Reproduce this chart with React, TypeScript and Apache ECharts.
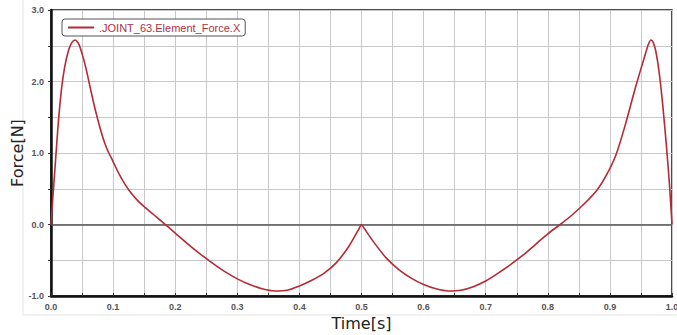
import React, { useEffect, useRef } from "react";
import * as echarts from "echarts";

const seriesName = ".JOINT_63.Element_Force.X";
const times = [
  0.0, 0.004, 0.008, 0.012, 0.017, 0.022, 0.028, 0.034, 0.039, 0.045, 0.052, 0.058, 0.064, 0.072, 0.082,
  0.09, 0.1, 0.11, 0.12, 0.13, 0.14, 0.15, 0.165, 0.18, 0.2, 0.22, 0.24, 0.26, 0.28, 0.3,
  0.32, 0.34, 0.36, 0.38, 0.4, 0.42, 0.44, 0.46, 0.48, 0.496, 0.5, 0.504, 0.52, 0.54, 0.56, 0.58, 0.6,
  0.62, 0.64, 0.66, 0.68, 0.7, 0.72, 0.74, 0.76, 0.78, 0.8, 0.82, 0.84, 0.86, 0.88, 0.895,
  0.91, 0.925, 0.94, 0.95, 0.957, 0.962, 0.966, 0.97, 0.974, 0.979, 0.985, 0.991, 0.996, 1.0,
];
const forces = [
  0.0, 0.5, 0.98, 1.45, 1.9, 2.2, 2.43, 2.55, 2.58, 2.52, 2.33, 2.12, 1.88, 1.58, 1.26,
  1.06, 0.88, 0.7, 0.55, 0.43, 0.33, 0.25, 0.14, 0.03, -0.12, -0.27, -0.41, -0.54, -0.66, -0.76,
  -0.84, -0.9, -0.93, -0.92, -0.86, -0.78, -0.68, -0.53, -0.3, -0.06, 0.0, -0.05, -0.25, -0.47, -0.63, -0.75, -0.84,
  -0.9, -0.93, -0.92, -0.87, -0.79, -0.68, -0.56, -0.43, -0.28, -0.13, 0.0, 0.14, 0.3, 0.49, 0.7,
  0.98, 1.4, 1.88, 2.18, 2.38, 2.52, 2.58, 2.54, 2.42, 2.15, 1.68, 1.1, 0.55, 0.0,
];
const xAxisName = "Time[s]";
const yAxisName = "Force[N]";

export default function App() {
  const ref = useRef<HTMLDivElement>(null);
  useEffect(() => {
    if (!ref.current) return;
    const chart = echarts.init(ref.current, null, { renderer: "svg" });
    const font = "'Liberation Sans', Arial, sans-serif";
    const labelStyle = { color: "#555", fontWeight: "bold" as const, fontSize: 9, fontFamily: font };
    chart.setOption({
      animation: false,
      backgroundColor: "#fff",
      graphic: [
        {
          type: "rect",
          shape: { x: 23, y: -2, width: 660, height: 317 },
          style: { fill: "none", stroke: "#e4e4e4", lineWidth: 1 },
          silent: true,
          z: -10,
        },
      ],
      grid: {
        left: 51,
        right: 5,
        top: 10,
        bottom: 39,
        containLabel: false,
        outerBoundsMode: "none",
        show: true,
        borderColor: "#111",
        borderWidth: 1.5,
        backgroundColor: "#fff",
      },
      legend: {
        left: 62,
        top: 19,
        itemWidth: 26,
        itemHeight: 2,
        itemGap: 4,
        icon: "rect",
        borderColor: "#555",
        borderWidth: 1,
        borderRadius: 3,
        padding: [3, 5, 3, 6],
        backgroundColor: "#fff",
        textStyle: { color: "#b03040", fontSize: 11, fontFamily: font },
        data: [seriesName],
      },
      xAxis: {
        type: "value",
        min: 0,
        max: 1,
        interval: 0.05,
        name: xAxisName,
        nameLocation: "middle",
        nameGap: 17,
        nameTextStyle: { fontSize: 16, color: "#222", fontFamily: "'DejaVu Sans', sans-serif" },
        axisLine: { show: true, onZero: false, lineStyle: { color: "#111", width: 2.5 } },
        axisTick: { show: true, inside: true, length: 3, lineStyle: { color: "#333" } },
        axisLabel: {
          ...labelStyle,
          margin: 6,
          formatter: (v: number) => (Math.round(v * 100) % 10 === 0 ? v.toFixed(1) : ""),
        },
        splitLine: { show: true, lineStyle: { color: "#c8c8c8", width: 1 } },
      },
      yAxis: {
        type: "value",
        min: -1,
        max: 3,
        interval: 0.5,
        name: yAxisName,
        nameLocation: "middle",
        nameGap: 26,
        nameMoveOverlap: false,
        nameTextStyle: { fontSize: 16, color: "#222", fontFamily: "'DejaVu Sans', sans-serif" },
        axisLine: { show: true, onZero: false, lineStyle: { color: "#111", width: 2.5 } },
        axisTick: { show: true, length: 3, lineStyle: { color: "#333" } },
        axisLabel: {
          ...labelStyle,
          margin: 7,
          formatter: (v: number) => (Math.round(v * 10) % 10 === 0 ? v.toFixed(1) : ""),
        },
        splitLine: { show: true, lineStyle: { color: "#c8c8c8", width: 1 } },
      },
      series: [
        {
          name: seriesName,
          type: "line",
          data: times.map((t, i) => [t, forces[i]]),
          showSymbol: false,
          symbol: "none",
          smooth: 0.25,
          color: "#b52a35",
          lineStyle: { color: "#b52a35", width: 1.6 },
          markLine: {
            silent: true,
            symbol: "none",
            label: { show: false },
            lineStyle: { color: "#555", width: 1.5, type: "solid" },
            data: [{ yAxis: 0 }],
            z: 1,
          },
          z: 3,
        },
      ],
    });
    return () => chart.dispose();
  }, []);
  return (
    <div
      ref={ref}
      style={{ position: "fixed", left: 0, top: 0, width: 677, height: 335 }}
    />
  );
}
